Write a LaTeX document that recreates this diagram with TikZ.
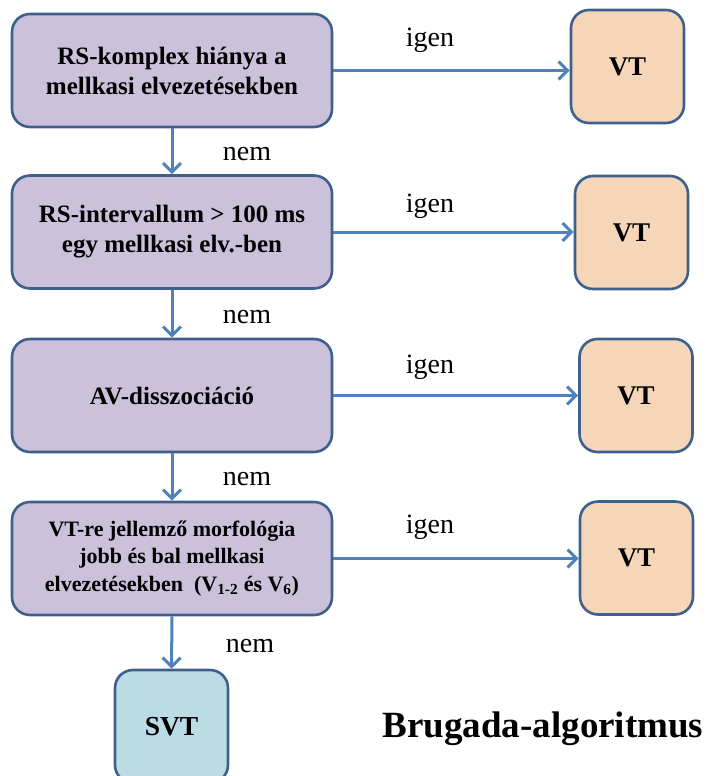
\documentclass[tikz,border=0pt]{standalone}
\usepackage{fontspec}
\setmainfont{Liberation Serif}
\usetikzlibrary{arrows.meta}
\definecolor{boxline}{RGB}{62,96,140}
\definecolor{arrowc}{RGB}{79,129,189}
\definecolor{purplefill}{RGB}{204,193,218}
\definecolor{orangefill}{RGB}{245,214,184}
\definecolor{bluefill}{RGB}{188,220,229}
\tikzset{
  base/.style={draw=boxline, line width=2.6pt, rounded corners=18pt, align=center, inner sep=0pt},
  mainbox/.style={base, fill=purplefill, minimum width=320pt, minimum height=113pt,
    font=\fontsize{25}{30}\selectfont\bfseries},
  vtbox/.style={base, fill=orangefill, minimum width=113pt, minimum height=113pt,
    font=\fontsize{27}{30}\selectfont\bfseries},
  svtbox/.style={base, fill=bluefill, minimum width=113pt, minimum height=113pt,
    font=\fontsize{27.5}{30}\selectfont\bfseries},
  lbl/.style={font=\fontsize{28}{30}\selectfont, inner sep=0pt, anchor=base},
  arr/.style={draw=arrowc, line width=3pt, -{Straight Barb[length=9pt, width=18pt, line width=3pt]}}
}
\begin{document}
\begin{tikzpicture}[x=1pt, y=-1pt]
\useasboundingbox (0,0) rectangle (708,776);
\clip (0,0) rectangle (708,776);
% main boxes
\node[mainbox] (b1) at (172,70.5) {RS-komplex hiánya a\\mellkasi elvezetésekben};
\node[mainbox] (b2) at (172,232) {RS-intervallum > 100 ms\\egy mellkasi elv.-ben};
\node[mainbox] (b3) at (172,395.5) {AV-disszociáció};
\node[mainbox, font=\fontsize{22}{27.5}\selectfont\bfseries] (b4) at (172,558.5)
  {VT-re jellemző morfológia\\jobb és bal mellkasi\\elvezetésekben\ \ (V\textsubscript{1-2} és V\textsubscript{6})};
% VT boxes
\node[vtbox] (v1) at (627.5,66.5) {VT};
\node[vtbox] (v2) at (631.5,232.5) {VT};
\node[vtbox] (v3) at (636,395.5) {VT};
\node[vtbox] (v4) at (636.5,558) {VT};
% SVT
\node[svtbox] (svt) at (171.5,726.5) {SVT};
% horizontal arrows
\draw[arr] (b1.east) -- (b1.east -| v1.west);
\draw[arr] (b2.east) -- (b2.east -| v2.west);
\draw[arr] (b3.east) -- (b3.east -| v3.west);
\draw[arr] (b4.east) -- (b4.east -| v4.west);
% vertical arrows
\draw[arr] (b1.south) -- (b2.north);
\draw[arr] (b2.south) -- (b3.north);
\draw[arr] (b3.south) -- (b4.north);
\draw[arr] (b4.south) -- (svt.north);
% labels
\node[lbl] (i1) at (430,47) {igen};
\node[lbl] (i2) at (430,212) {igen};
\node[lbl] (i3) at (430,373) {igen};
\node[lbl] (i4) at (430,533) {igen};
\node[lbl] (n1) at (247,160) {nem};
\node[lbl] (n2) at (247,323) {nem};
\node[lbl] (n3) at (247,485) {nem};
\node[lbl] (n4) at (250,652) {nem};
\node[lbl, font=\fontsize{37}{40}\selectfont\bfseries] (title) at (543,737) {Brugada-algoritmus};
\end{tikzpicture}
\end{document}
